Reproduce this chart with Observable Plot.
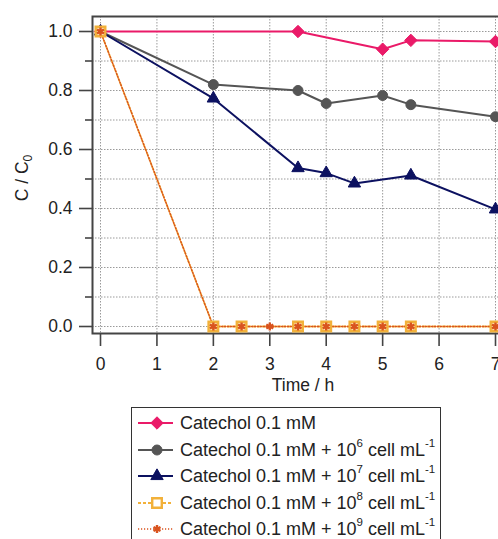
<!DOCTYPE html>
<html><head><meta charset="utf-8">
<script src="https://cdn.jsdelivr.net/npm/d3@7"></script>
<script src="https://cdn.jsdelivr.net/npm/@observablehq/plot@0.6"></script>
<style>
html,body{margin:0;padding:0;background:#fff;}
body{width:498px;height:539px;overflow:hidden;position:relative;font-family:"Liberation Sans",Arial,sans-serif;color:#222;}
#chart{position:absolute;left:0;top:0;width:498px;height:400px;overflow:hidden;}
#chart svg{max-width:none !important;}
#legend{position:absolute;left:131px;top:407px;width:308px;height:160px;border:1.5px solid #333;background:#fff;}
.row{position:absolute;left:0;height:26px;line-height:26px;white-space:nowrap;font-size:18px;}
.row svg{position:absolute;left:3px;top:0;}
.row span{position:absolute;left:48px;top:0;}
.row sup{font-size:11.5px;line-height:0;vertical-align:9px;}
</style>
</head><body>
<div id="chart"></div>
<div id="legend"></div>
<script>
// ---- data ----
const baseLabel = "Catechol 0.1 mM";
const cellExponents = [null, 6, 7, 8, 9];
const time1 = [0, 3.5, 5, 5.5, 7];
const c1    = [1.0, 1.0, 0.94, 0.97, 0.966];
const time2 = [0, 2, 3.5, 4, 5, 5.5, 7];
const c2    = [1.0, 0.82, 0.80, 0.756, 0.783, 0.752, 0.711];
const time3 = [0, 2, 3.5, 4, 4.5, 5.5, 7];
const c3    = [1.0, 0.773, 0.537, 0.52, 0.485, 0.512, 0.397];
const time4 = [0, 2, 2.5, 3.5, 4, 4.5, 5, 5.5, 7];
const c4    = [1.0, 0, 0, 0, 0, 0, 0, 0, 0];
const time5 = [0, 2, 2.5, 3, 3.5, 4, 4.5, 5, 5.5, 7];
const c5    = [1.0, 0, 0, 0, 0, 0, 0, 0, 0, 0];
const xTicks = [0, 1, 2, 3, 4, 5, 6, 7];
const yTicks = [0, 0.2, 0.4, 0.6, 0.8, 1.0];
const yMinorTicks = [0.1, 0.3, 0.5, 0.7, 0.9];
const yGridTicks = [0, 0.1, 0.2, 0.3, 0.4, 0.5, 0.6, 0.7, 0.8, 0.9, 1.0];
const xLabel = "Time / h";

// ---- styles ----
const styles = [
  {color: "#ea1a68", symbol: "diamond2", r: 5.6, fill: "#ea1a68", legendFill: "#ea1a68", sw: 2, dash: null, msw: 1},
  {color: "#555555", symbol: "circle", r: 5, fill: "#555555", legendFill: "#555555", sw: 2, dash: null, msw: 1},
  {color: "#0c1160", symbol: "triangle", r: 4.6, fill: "#0c1160", legendFill: "#0c1160", sw: 2, dash: null, msw: 1},
  {color: "#f2b13a", symbol: "square", r: 5.4, fill: "#fbe2a8", legendFill: "#fff", sw: 1.8, dash: "3,2", msw: 2.4},
  {color: "#d9531e", symbol: "asterisk", r: 3.8, fill: "none", legendFill: "none", sw: 1.4, dash: "1.2,1.8", msw: 2.4}
];
const times = [time1, time2, time3, time4, time5];
const values = [c1, c2, c3, c4, c5];
const series = times.map((t, i) => t.map((x, j) => ({time: x, c: values[i][j]})));

const W = 520, H = 400;
const kx = 395 / 7, ky = 295;
const xDomain = [-8 / kx, 7 + 25 / kx];
const yDomain = [-7 / ky, 1 + 15 / ky];

const marks = [
  Plot.gridX({ticks: xTicks, stroke: "#9a9a9a", strokeOpacity: 1, strokeDasharray: "1.5,1.5", strokeWidth: 1}),
  Plot.gridY({ticks: yGridTicks, stroke: "#9a9a9a", strokeOpacity: 1, strokeDasharray: "1.5,1.5", strokeWidth: 1}),
  Plot.axisY({ticks: yTicks, tickSize: 13, tickPadding: 7, tickFormat: d3.format(".1f"), label: null, stroke: "#444", strokeWidth: 1.6, fill: "#222"}),
  Plot.axisY({ticks: yMinorTicks, tickSize: 7, tickFormat: () => "", label: null, stroke: "#444", strokeWidth: 1.6}),
  Plot.axisX({ticks: xTicks, tickSize: 13, tickPadding: 11, label: null, stroke: "#444", strokeWidth: 1.6, fill: "#222"}),
  Plot.frame({stroke: "#444", strokeWidth: 2})
];
series.forEach((d, i) => {
  const s = styles[i];
  marks.push(Plot.line(d, {x: "time", y: "c", stroke: s.color, strokeWidth: s.sw, strokeDasharray: s.dash}));
});
series.forEach((d, i) => {
  const s = styles[i];
  marks.push(Plot.dot(d, {x: "time", y: "c", symbol: () => s.symbol, r: s.r, fill: s.fill, stroke: s.color, strokeWidth: s.msw}));
});

const svg = Plot.plot({
  width: W, height: H,
  marginLeft: 92, marginRight: 0, marginTop: 16, marginBottom: H - 333,
  x: {domain: xDomain},
  y: {domain: yDomain},
  symbol: {type: "identity"},
  style: {fontFamily: '"Liberation Sans", Arial, sans-serif', fontSize: "17.5px", color: "#222", background: "#fff", overflow: "visible", maxWidth: "none"},
  marks
});
svg.style.maxWidth = "none";
svg.setAttribute("width", W);
svg.setAttribute("height", H);
document.getElementById("chart").appendChild(svg);

// axis labels
const sel = d3.select(svg);
sel.append("text").attr("x", 303).attr("y", 391).attr("text-anchor", "middle")
  .attr("fill", "#222").style("font-size", "17.5px").text(xLabel);
const yl = sel.append("text").attr("transform", "translate(28,178) rotate(-90)")
  .attr("text-anchor", "middle").attr("fill", "#222").style("font-size", "17.5px");
yl.append("tspan").text("C / C");
yl.append("tspan").attr("baseline-shift", "-4").style("font-size", "12px").text("0");

// legend
const legend = d3.select("#legend");
const symMap = {diamond2: d3.symbolDiamond2, circle: d3.symbolCircle, triangle: d3.symbolTriangle, square: d3.symbolSquare, asterisk: d3.symbolAsterisk};
cellExponents.forEach((e, i) => {
  const s = styles[i];
  const row = legend.append("div").attr("class", "row").style("top", (2 + 26.5 * i) + "px").style("width", "300px");
  const sw = row.append("svg").attr("width", 44).attr("height", 26);
  sw.append("line").attr("x1", 3).attr("x2", 38).attr("y1", 13).attr("y2", 13)
    .attr("stroke", s.color).attr("stroke-width", s.sw).attr("stroke-dasharray", s.dash);
  sw.append("path").attr("transform", "translate(22,13)")
    .attr("d", d3.symbol(symMap[s.symbol], Math.PI * s.r * s.r)())
    .attr("fill", s.legendFill).attr("stroke", s.color).attr("stroke-width", s.msw);
  const span = row.append("span");
  if (e == null) span.text(baseLabel);
  else span.html(baseLabel + " + 10<sup>" + e + "</sup> cell mL<sup>-1</sup>");
});
</script>
</body></html>
